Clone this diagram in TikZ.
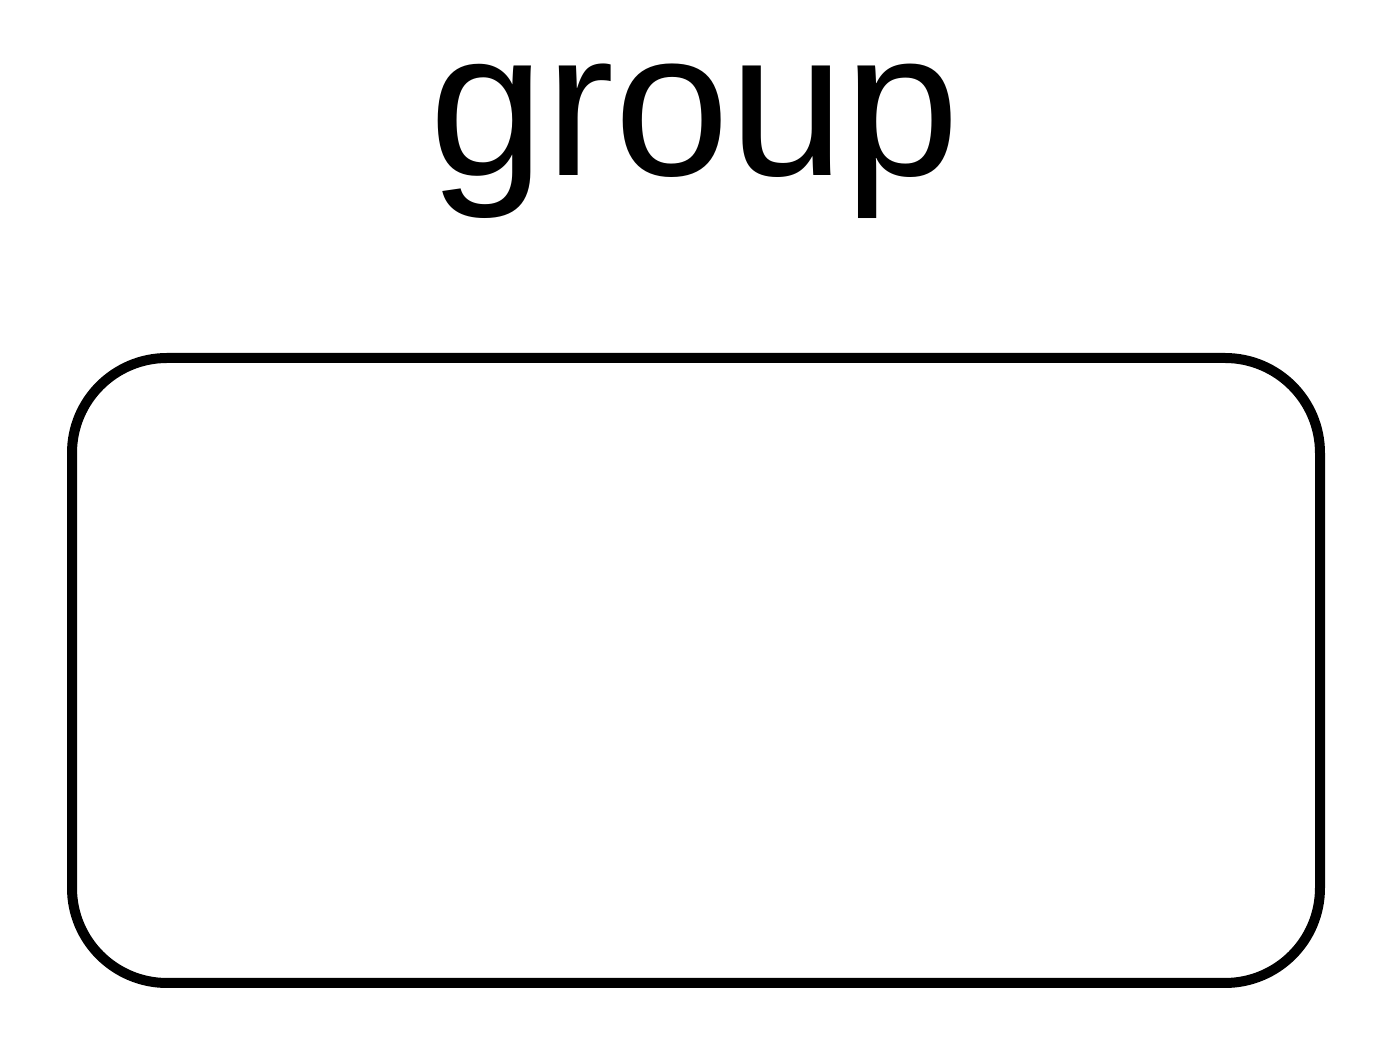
\documentclass[tikz,border=0pt]{standalone}
\usepackage{fontspec}
\setmainfont{Liberation Sans}
\usetikzlibrary{positioning}
\tikzset{
    grouptitle/.style={
        font=\fontsize{59}{71}\selectfont,
        inner sep=0pt,
        anchor=base
    },
    groupbox/.style={
        rectangle,
        draw=black,
        line width=0.1cm,
        rounded corners=0.95cm,
        minimum width=12.48cm,
        minimum height=6.25cm,
        inner sep=0pt,
        outer sep=0pt,
        fill=white
    }
}
\begin{document}
\begin{tikzpicture}
\useasboundingbox (0,0) rectangle (13.9,-10.4);

% Title
\node[grouptitle] (title) at (6.95,-1.76) {group};

% Group box
\node[groupbox] (box) at (6.96,-6.705) {};

\end{tikzpicture}
\end{document}
